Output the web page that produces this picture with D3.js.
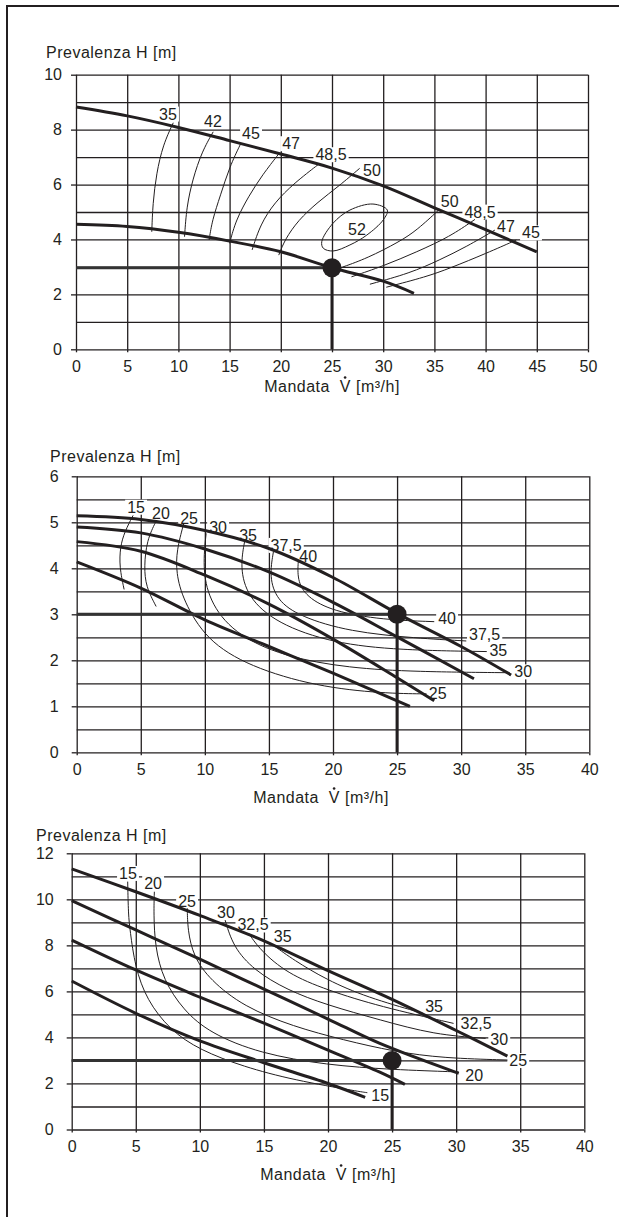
<!DOCTYPE html>
<html>
<head>
<meta charset="utf-8">
<script src="https://cdn.jsdelivr.net/npm/d3@7"></script>
<style>
  body { margin: 0; background: #fff; }
  svg { display: block; font-family: "Liberation Sans", Arial, sans-serif; }
</style>
</head>
<body>
<script>
// ---------- panel 1 data ----------
var p1XTicks = [0, 5, 10, 15, 20, 25, 30, 35, 40, 45, 50];
var p1YTicks = [0, 2, 4, 6, 8, 10];
var p1YGrid = [0, 1, 2, 3, 4, 5, 6, 7, 8, 9, 10];
var p1Pumps = [
  [[0, 8.82], [5, 8.5], [10, 8.08], [15, 7.6], [20, 7.11], [25, 6.6], [30, 5.95], [35, 5.15], [40, 4.36], [45, 3.55]],
  [[0, 4.55], [5, 4.47], [10, 4.26], [15, 3.94], [20, 3.55], [25, 2.97], [30, 2.48], [33, 2.04]]
];
var p1Iso = [
  [[9.5, 8.25], [8.5, 7.45], [7.85, 6.4], [7.5, 5.3], [7.4, 4.28]],
  [[13.4, 7.92], [12.3, 7.2], [11.4, 6.2], [10.8, 5.19], [10.6, 4.1]],
  [[16.1, 7.5], [15.0, 6.65], [14.1, 5.6], [13.3, 4.7], [13.0, 3.98]],
  [[19.85, 7.14], [18.2, 6.35], [16.9, 5.6], [15.6, 4.7], [15.0, 3.86]],
  [[23.8, 6.77], [21.3, 6.05], [19.4, 5.35], [18.0, 4.55], [17.2, 3.62]],
  [[27.7, 6.59], [25.7, 5.95], [23.6, 5.36], [21.7, 4.7], [20.4, 4.0], [19.8, 3.43]],
  [[35.5, 5.1], [33.3, 4.34], [31.6, 3.92], [28.4, 3.31], [26.0, 2.99]],
  [[38.96, 4.73], [36.5, 4.1], [33.3, 3.55], [30.0, 3.03], [26.9, 2.64]],
  [[40.9, 4.34], [38.15, 3.74], [35.5, 3.25], [32.6, 2.77], [28.7, 2.37]],
  [[43.0, 3.98], [40.1, 3.5], [36.5, 2.95], [34.2, 2.64], [30.3, 2.26]]
];
var p1Iso52 = [[24.0, 3.92], [25.1, 4.59], [26.75, 5.07], [29.0, 5.29], [30.4, 5.07], [30.0, 4.71],
  [28.4, 4.16], [26.75, 3.8], [25.1, 3.58], [24.15, 3.68]];
var p1IsoLabels = [["35", 8.98, 8.57], ["42", 13.38, 8.31], ["45", 17.09, 7.88], ["47", 21.0, 7.49],
  ["48,5", 24.9, 7.09], ["50", 28.9, 6.53], ["52", 27.44, 4.35],
  ["50", 36.5, 5.4], ["48,5", 39.45, 5.0], ["47", 41.99, 4.49], ["45", 44.43, 4.24]];
var p1Duty = [25, 2.97];

// ---------- panel 2 data ----------
var p2XTicks = [0, 5, 10, 15, 20, 25, 30, 35, 40];
var p2YTicks = [0, 1, 2, 3, 4, 5, 6];
var p2YGrid = [0, 0.5, 1, 1.5, 2, 2.5, 3, 3.5, 4, 4.5, 5, 5.5, 6];
var p2Pumps = [
  [[0, 5.14], [5, 5.06], [10, 4.82], [15, 4.43], [20, 3.8], [25, 3.02], [30, 2.3], [33.9, 1.68]],
  [[0, 4.9], [5, 4.77], [10, 4.42], [15, 3.92], [20, 3.26], [25, 2.51], [31, 1.6]],
  [[0, 4.58], [5, 4.37], [10, 3.85], [15, 3.22], [20, 2.46], [25, 1.62], [27.9, 1.12]],
  [[0, 4.14], [5, 3.57], [10, 2.88], [15, 2.3], [20, 1.72], [26, 1.0]]
];
var p2Iso = [
  [[4.4, 5.15], [3.75, 4.8], [3.39, 4.47], [3.33, 4.03], [3.7, 3.54]],
  [[6.24, 5.05], [5.46, 4.61], [5.26, 4.03], [5.4, 3.6], [6.2, 3.17]],
  [[8.35, 4.97], [7.8, 4.4], [7.75, 3.9], [8.3, 3.31], [10.1, 2.44], [13.5, 1.86], [18.7, 1.43], [23.9, 1.28], [27.3, 1.27]],
  [[10.1, 4.76], [9.83, 4.03], [10.3, 3.31], [12.2, 2.59], [16.1, 2.08], [21.3, 1.83], [26.5, 1.75], [33.8, 1.73]],
  [[13.1, 4.58], [12.75, 4.03], [13.3, 3.38], [15.6, 2.8], [20.0, 2.37], [25.2, 2.22], [32.0, 2.19]],
  [[15.35, 4.36], [15.03, 3.82], [15.6, 3.31], [17.4, 2.95], [21.3, 2.62], [26.5, 2.48], [30.4, 2.42]],
  [[17.3, 4.18], [17.2, 3.75], [17.9, 3.38], [20.0, 3.06], [23.9, 2.88], [27.9, 2.84]]
];
var p2IsoLabels = [["15", 4.63, 5.33], ["20", 6.58, 5.2], ["25", 8.77, 5.09], ["30", 11.03, 4.9],
  ["35", 13.37, 4.72], ["37,5", 16.34, 4.5], ["40", 18.06, 4.26],
  ["40", 28.9, 2.91], ["37,5", 31.83, 2.57], ["35", 32.9, 2.22], ["30", 34.84, 1.75], ["25", 28.17, 1.27]];
var p2Duty = [25, 3.0];

// ---------- panel 3 data ----------
var p3XTicks = [0, 5, 10, 15, 20, 25, 30, 35, 40];
var p3YTicks = [0, 2, 4, 6, 8, 10, 12];
var p3YGrid = [0, 1, 2, 3, 4, 5, 6, 7, 8, 9, 10, 11, 12];
var p3Pumps = [
  [[0, 11.32], [5, 10.33], [10, 9.3], [15, 8.2], [20, 6.9], [25, 5.65], [30, 4.3], [34, 3.19]],
  [[0, 9.94], [5, 8.67], [10, 7.4], [15, 6.1], [20, 4.8], [24, 3.75], [30.2, 2.44]],
  [[0, 8.23], [5, 6.93], [10, 5.75], [15, 4.62], [20, 3.45], [24, 2.5], [26, 1.96]],
  [[0, 6.45], [5, 5.05], [10, 3.85], [15, 2.9], [20, 2.0], [22.9, 1.4]]
];
var p3Iso = [
  [[4.37, 10.77], [4.42, 9.32], [4.55, 8.67], [4.94, 7.07], [5.85, 5.63], [7.67, 4.32], [10.0, 3.45], [13.4, 2.73], [17.3, 2.15], [22.5, 1.64], [23.07, 1.6]],
  [[6.45, 10.33], [6.4, 9.4], [6.5, 7.94], [7.15, 6.5], [8.7, 5.19], [10.8, 4.18], [14.7, 3.3], [19.9, 2.8], [25, 2.6], [30.2, 2.5]],
  [[9.02, 9.61], [9.05, 8.67], [9.5, 7.51], [10.8, 6.5], [13.4, 5.34], [17.3, 4.47], [21.2, 3.89], [25.2, 3.38], [29, 3.1], [34.0, 3.02]],
  [[11.97, 9.1], [12.6, 7.94], [14.2, 6.93], [16.8, 6.06], [19.9, 5.41], [24.07, 4.76], [28.3, 4.12], [32.3, 3.96]],
  [[13.8, 8.53], [14.7, 7.8], [16.8, 6.78], [19.9, 6.06], [24.07, 5.34], [29.8, 4.61]],
  [[15.7, 8.02], [17.3, 7.37], [19.9, 6.5], [23, 5.75], [27.4, 5.05]]
];
var p3IsoLabels = [["15", 4.39, 11.13], ["20", 6.35, 10.69], ["25", 9.0, 9.91], ["30", 12.04, 9.43],
  ["32,5", 14.15, 8.89], ["35", 16.46, 8.41],
  ["35", 28.28, 5.35], ["32,5", 31.56, 4.61], ["30", 33.36, 3.93], ["25", 34.84, 3.0],
  ["20", 31.41, 2.37], ["15", 24.07, 1.48]];
var p3Duty = [25, 3.0];

var yTitle = "Prevalenza H [m]";
var xTitle = "Mandata\u00a0 V [m\u00b3/h]";

var ink = "#231f20";

var svg = d3.select("body").append("svg")
  .attr("width", 619)
  .attr("height", 1217);

// outer frame (left and top only)
svg.append("path")
  .attr("d", "M7,1217V6H619")
  .attr("fill", "none")
  .attr("stroke", ink)
  .attr("stroke-width", 2);

function drawPanel(p) {
  var x = d3.scaleLinear().domain(p.xDomain).range(p.xRange);
  var y = d3.scaleLinear().domain(p.yDomain).range(p.yRange);
  var w = p.xRange[1] - p.xRange[0];
  var h = p.yRange[0] - p.yRange[1];
  var g = svg.append("g");

  // grid
  var grid = g.append("g");
  grid.append("g")
    .attr("transform", "translate(0," + p.yRange[0] + ")")
    .call(d3.axisBottom(x).tickValues(p.xTicks).tickSize(-h).tickFormat(""));
  grid.append("g")
    .attr("transform", "translate(" + p.xRange[0] + ",0)")
    .call(d3.axisLeft(y).tickValues(p.yGrid).tickSize(-w).tickFormat(""));
  grid.selectAll(".domain").remove();
  grid.selectAll("line").attr("stroke", ink).attr("stroke-width", 1.3);

  // tick labels
  var ax = g.append("g");
  ax.append("g")
    .attr("transform", "translate(0," + p.yRange[0] + ")")
    .call(d3.axisBottom(x).tickValues(p.xTicks).tickSize(3).tickPadding(8).tickFormat(d3.format("d")));
  ax.append("g")
    .attr("transform", "translate(" + p.xRange[0] + ",0)")
    .call(d3.axisLeft(y).tickValues(p.yTicks).tickSize(5).tickPadding(p.yPad).tickFormat(d3.format("d")));
  ax.selectAll(".domain").remove();
  ax.selectAll("line").attr("stroke", ink).attr("stroke-width", 1.3);
  ax.selectAll("text")
    .attr("font-family", "Liberation Sans, Arial, sans-serif")
    .attr("font-size", 16)
    .attr("fill", ink);

  // titles
  g.append("text")
    .attr("x", p.yTitlePos[0]).attr("y", p.yTitlePos[1])
    .attr("font-size", 16).attr("letter-spacing", 0.5).attr("fill", ink)
    .text(yTitle);
  var xt = g.append("text")
    .attr("x", p.xTitlePos[0]).attr("y", p.xTitlePos[1])
    .attr("text-anchor", "middle")
    .attr("font-size", 16).attr("letter-spacing", 0.5).attr("fill", ink)
    .text(xTitle);
  // dot over the V (volume flow symbol)
  var vi = xTitle.indexOf("V");
  var s = xt.node().getStartPositionOfChar(vi);
  var e = xt.node().getEndPositionOfChar(vi);
  g.append("circle")
    .attr("cx", (s.x + e.x) / 2 - 0.3).attr("cy", p.xTitlePos[1] - 14.5)
    .attr("r", 1.3).attr("fill", ink);

  // iso-line labels: white boxes first (they cut the grid)
  var boxes = g.append("g");
  var labels = g.append("g");
  p.labels.forEach(function(d) {
    var t = labels.append("text")
      .attr("x", x(d[1])).attr("y", y(d[2]))
      .attr("dy", "0.35em")
      .attr("text-anchor", "middle")
      .attr("font-size", 16)
      .attr("fill", ink)
      .text(d[0]);
    var bb = t.node().getBBox();
    boxes.append("rect")
      .attr("x", bb.x - 2).attr("y", bb.y + 1)
      .attr("width", bb.width + 4).attr("height", bb.height - 2)
      .attr("fill", "#fff");
  });

  var px = function(d) { return x(d[0]); };
  var py = function(d) { return y(d[1]); };
  var pumpLine = d3.line().x(px).y(py).curve(d3.curveCatmullRom.alpha(0.5));
  var isoLine = d3.line().x(px).y(py).curve(d3.curveBasis);
  var loopLine = d3.line().x(px).y(py).curve(d3.curveCatmullRomClosed.alpha(0.5));

  // thin iso-efficiency lines
  var marks = g.insert("g", function() { return labels.node(); });
  p.iso.forEach(function(pts) {
    marks.append("path").attr("d", isoLine(pts))
      .attr("fill", "none").attr("stroke", ink).attr("stroke-width", 1);
  });
  if (p.loop) {
    marks.append("path").attr("d", loopLine(p.loop))
      .attr("fill", "none").attr("stroke", ink).attr("stroke-width", 1);
  }

  // pump curves
  p.pumps.forEach(function(pts) {
    marks.append("path").attr("d", pumpLine(pts))
      .attr("fill", "none").attr("stroke", ink).attr("stroke-width", 3);
  });

  // duty point
  marks.append("line")
    .attr("x1", x(0)).attr("x2", x(p.duty[0]))
    .attr("y1", y(p.duty[1])).attr("y2", y(p.duty[1]))
    .attr("stroke", "#333").attr("stroke-width", 3);
  marks.append("line")
    .attr("x1", x(p.duty[0])).attr("x2", x(p.duty[0]))
    .attr("y1", y(p.duty[1])).attr("y2", y(0))
    .attr("stroke", ink).attr("stroke-width", 3);
  marks.append("circle")
    .attr("cx", x(p.duty[0])).attr("cy", y(p.duty[1]))
    .attr("r", 9.5).attr("fill", ink);
}

drawPanel({
  xDomain: [0, 50], yDomain: [0, 10],
  xRange: [76, 588], yRange: [349.3, 74.7],
  xTicks: p1XTicks, yTicks: p1YTicks, yGrid: p1YGrid, yPad: 9,
  yTitlePos: [46, 58], xTitlePos: [332, 392],
  pumps: p1Pumps, iso: p1Iso, loop: p1Iso52, labels: p1IsoLabels, duty: p1Duty
});

drawPanel({
  xDomain: [0, 40], yDomain: [0, 6],
  xRange: [76.7, 589.3], yRange: [752.3, 476.3],
  xTicks: p2XTicks, yTicks: p2YTicks, yGrid: p2YGrid, yPad: 13,
  yTitlePos: [50, 462], xTitlePos: [321, 803],
  pumps: p2Pumps, iso: p2Iso, labels: p2IsoLabels, duty: p2Duty
});

drawPanel({
  xDomain: [0, 40], yDomain: [0, 12],
  xRange: [71.7, 584.3], yRange: [1129.5, 853.3],
  xTicks: p3XTicks, yTicks: p3YTicks, yGrid: p3YGrid, yPad: 13,
  yTitlePos: [36, 841], xTitlePos: [328, 1180],
  pumps: p3Pumps, iso: p3Iso, labels: p3IsoLabels, duty: p3Duty
});
</script>
</body>
</html>
